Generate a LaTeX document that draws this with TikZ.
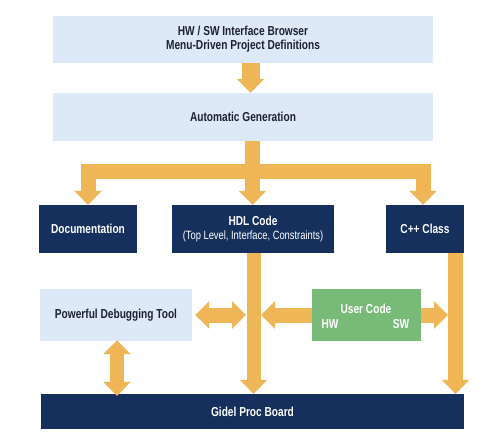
\documentclass[tikz,border=0pt]{standalone}
\usepackage{fontspec}
\setmainfont{Liberation Sans}[FakeStretch=0.78]
\usetikzlibrary{arrows.meta}
\definecolor{navy}{HTML}{16305E}
\definecolor{lightbox}{HTML}{DDE9F6}
\definecolor{arrowc}{HTML}{EEB656}
\definecolor{greenbox}{HTML}{78BA78}
\definecolor{darktext}{HTML}{1E2230}
\begin{document}
\begin{tikzpicture}[x=1pt,y=-1pt,
  lbox/.style={rectangle,fill=lightbox,text=darktext,font=\fontsize{13}{14}\selectfont\bfseries,align=center,inner sep=0pt},
  nbox/.style={rectangle,fill=navy,text=white,font=\fontsize{13}{14}\selectfont\bfseries,align=center,inner sep=0pt},
  gbox/.style={rectangle,fill=greenbox,text=white,font=\fontsize{13}{14}\selectfont\bfseries,inner sep=0pt},
  fat/.style={draw=arrowc,line width=15pt,line cap=butt,line join=miter},
  tipE/.style={-{Triangle[width=27pt,length=14pt]}},
  tipB/.style={{Triangle[width=27pt,length=14pt]}-{Triangle[width=27pt,length=14pt]}},
]
\useasboundingbox (0,0) rectangle (500,447);
\fill[white] (0,0) rectangle (500,447);

\node[lbox,minimum width=380pt,minimum height=47pt] (top) at (243,39.5) {HW / SW Interface Browser\\Menu-Driven Project Definitions};
\node[lbox,minimum width=380pt,minimum height=48pt] (auto) at (243,117) {Automatic Generation};
\node[nbox,minimum width=98pt,minimum height=48pt] (doc) at (88,229) {Documentation};
\node[nbox,minimum width=162pt,minimum height=48pt] (hdl) at (253,229) {HDL Code\\{\mdseries\fontsize{12}{14}\selectfont (Top Level, Interface, Constraints)}};
\node[nbox,minimum width=78pt,minimum height=48pt] (cpp) at (425,229) {C++ Class};
\node[lbox,minimum width=152pt,minimum height=52pt] (dbg) at (116,315) {Powerful Debugging Tool};
\node[gbox,minimum width=109pt,minimum height=52pt] (user) at (366.5,315) {};
\node[gbox,anchor=center] (ucl) at (366,309) {User Code};
\node[gbox,anchor=center] (uhw) at (330,324) {HW};
\node[gbox,anchor=center] (usw) at (401,324) {SW};
\node[nbox,minimum width=423pt,minimum height=35pt] (board) at (252.5,411.5) {Gidel Proc Board};

% helper coordinates
\coordinate (a1s) at (top.south -| 250.5,0);
\coordinate (a1e) at (auto.north -| 250.5,0);
\coordinate (bs) at (auto.south -| 252.5,0);
\coordinate (bj) at (252.5,171.5);
\coordinate (bl) at (88,171.5);
\coordinate (br) at (423,171.5);
\coordinate (hs) at (hdl.south -| 253.5,0);
\coordinate (he) at (board.north -| 253.5,0);
\coordinate (cs) at (cpp.south -| 455.5,0);
\coordinate (ce) at (board.north -| 455.5,0);
\coordinate (hl) at (246,315);
\coordinate (hr) at (261,315);
\coordinate (cl) at (448,315);
\coordinate (dx) at (117,0);

% arrows
\draw[fat,tipE,line width=18pt] (a1s) -- (a1e);
\draw[fat] (bs) -- (bj);
\draw[fat,tipE] (bj) -- (hdl.north -| bj);
\draw[fat,tipB] (doc.north -| bl) -- (bl) -- (br) -- (cpp.north -| br);
\draw[fat,tipE,line width=14pt] (hs) -- (he);
\draw[fat,tipE] (cs) -- (ce);
\draw[fat,tipB] ([xshift=3pt]dbg.east) -- (hl);
\draw[fat,tipE] (user.west) -- (hr);
\draw[fat,tipE] (user.east) -- (cl);
\draw[fat,tipB,line width=14pt] ([yshift=1pt]dbg.south -| dx) -- ([yshift=-2pt]board.north -| dx);
\end{tikzpicture}
\end{document}
